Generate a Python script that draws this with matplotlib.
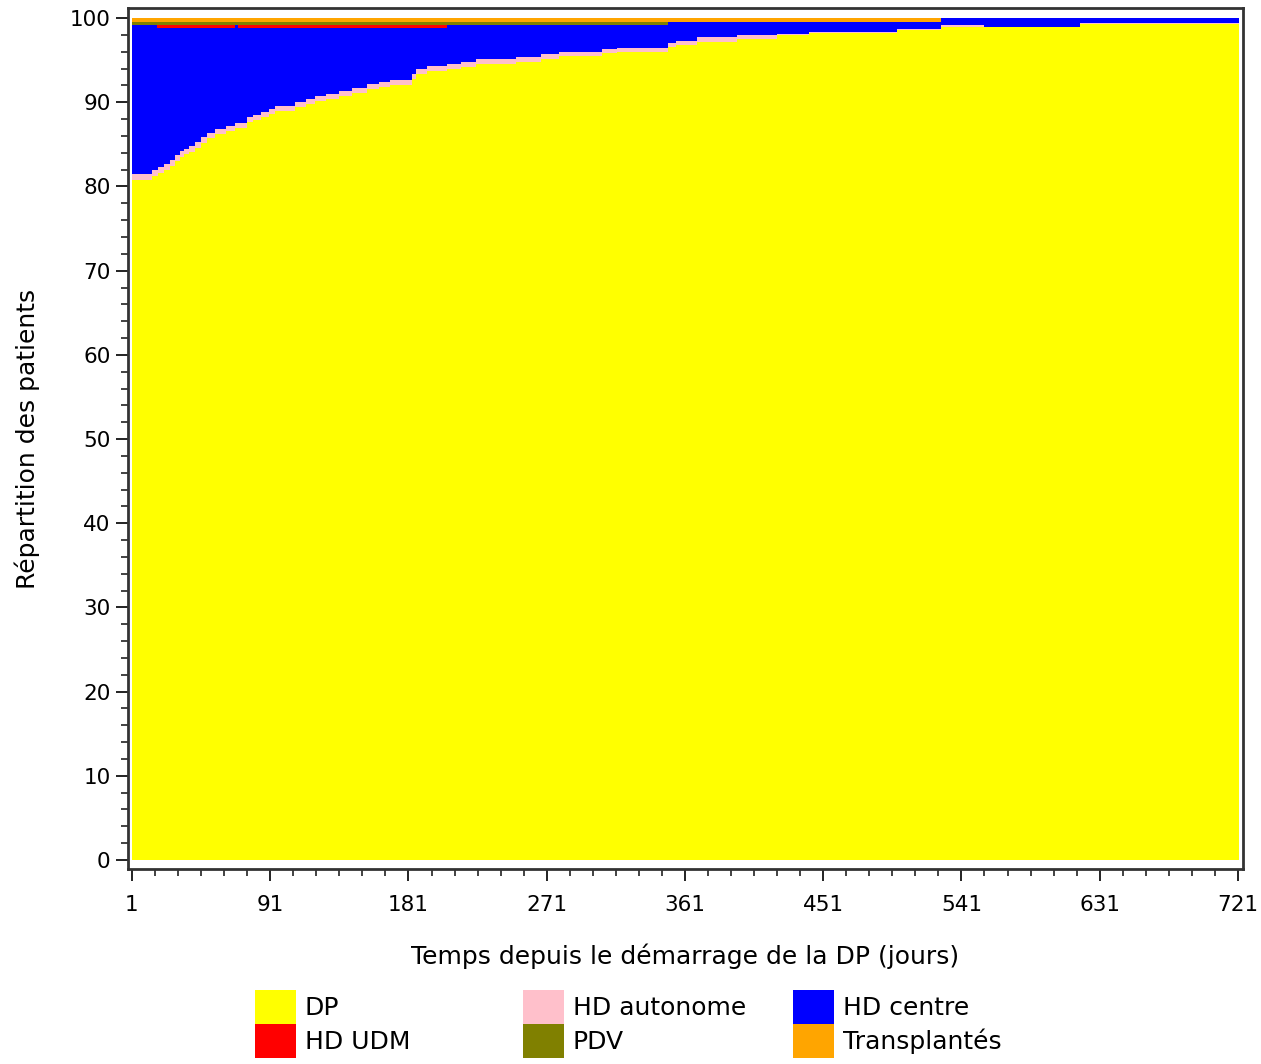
import numpy as np
import matplotlib
matplotlib.use("Agg")
import matplotlib.pyplot as plt
from matplotlib.patches import Patch
from matplotlib.ticker import MultipleLocator, FixedLocator

# ---- data (step values, each value holds from its day until the next day) ----
days = [1, 14, 17, 18, 22, 26, 29, 32, 35, 38, 42, 46, 50, 55, 62, 68, 70, 76, 80, 85,
        90, 94, 107, 114, 120, 127, 136, 144, 154, 162, 169, 183, 186, 193, 206, 215,
        225, 251, 267, 279, 307, 317, 350, 355, 369, 395, 421, 442, 499, 528, 556, 618, 722]
dp = [80.8, 81.2, 81.2, 81.6, 82.0, 82.4, 83.0, 83.5, 83.8, 84.1, 84.6, 85.2, 85.7, 86.2,
      86.6, 86.9, 86.9, 87.6, 87.9, 88.2, 88.6, 89.0, 89.4, 89.8, 90.1, 90.4, 90.7, 91.1,
      91.6, 91.8, 92.0, 92.8, 93.4, 93.7, 93.9, 94.2, 94.5, 94.8, 95.2, 95.5, 95.8, 96.0,
      96.6, 96.8, 97.2, 97.5, 98.0, 98.2, 98.6, 98.9, 98.9, 99.3, 99.3]
hd_autonome = [0.7, 0.7, 0.7, 0.7, 0.7, 0.7, 0.7, 0.7, 0.7, 0.7, 0.7, 0.7, 0.6, 0.6, 0.6,
               0.6, 0.6, 0.6, 0.6, 0.6, 0.6, 0.6, 0.6, 0.6, 0.6, 0.6, 0.6, 0.6, 0.6, 0.6,
               0.6, 0.6, 0.6, 0.6, 0.6, 0.6, 0.6, 0.6, 0.5, 0.5, 0.5, 0.5, 0.5, 0.5, 0.5,
               0.5, 0.15, 0.15, 0.15, 0.3, 0.1, 0.1, 0.1]
hd_centre = [17.7, 17.3, 16.9, 16.5, 16.1, 15.7, 15.1, 14.6, 14.3, 14.0, 13.5, 12.9, 12.5,
             12.0, 11.6, 11.7, 11.3, 10.6, 10.3, 10.0, 9.6, 9.2, 8.8, 8.4, 8.1, 7.8, 7.5,
             7.1, 6.6, 6.4, 6.2, 5.4, 4.8, 4.5, 4.7, 4.4, 4.1, 3.8, 3.5, 3.2, 2.9, 2.7,
             2.4, 2.2, 1.8, 1.5, 1.35, 1.15, 0.75, 0.8, 1.0, 0.6, 0.6]
hd_udm = [0.0, 0.0, 0.4, 0.4, 0.4, 0.4, 0.4, 0.4, 0.4, 0.4, 0.4, 0.4, 0.4, 0.4, 0.4, 0.0,
          0.4, 0.4, 0.4, 0.4, 0.4, 0.4, 0.4, 0.4, 0.4, 0.4, 0.4, 0.4, 0.4, 0.4, 0.4, 0.4,
          0.4, 0.4, 0.0, 0.0, 0.0, 0.0, 0.0, 0.0, 0.0, 0.0, 0.0, 0.0, 0.0, 0.0, 0.0, 0.0,
          0.0, 0.0, 0.0, 0.0, 0.0]
pdv = [0.3] * 42 + [0.0] * 11
transplantes = [0.5] * 49 + [0.0] * 4

labels = ["DP", "HD autonome", "HD centre", "HD UDM", "PDV", "Transplantés"]
colors = ["#FFFF00", "#FFC0CB", "#0000FF", "#FF0000", "#808000", "#FFA500"]
xticks = [1, 91, 181, 271, 361, 451, 541, 631, 721]
yticks = list(range(0, 101, 10))

# ---- figure ----
plt.rcParams['font.family'] = ['DejaVu Sans']
fig = plt.figure(figsize=(12.61, 10.64), dpi=100)
ax = fig.add_axes([128 / 1261, 1 - 869 / 1064, (1243 - 128) / 1261, (869 - 8) / 1064])

ax.stackplot(days, dp, hd_autonome, hd_centre, hd_udm, pdv, transplantes,
             colors=colors, step='post', linewidth=0, antialiased=False)

ax.set_xlim(-1.6, 724.3)
ax.set_ylim(-1.07, 101.2)
ax.xaxis.set_major_locator(FixedLocator(xticks))
ax.xaxis.set_minor_locator(FixedLocator(list(range(1, 722, 15))))
ax.yaxis.set_major_locator(FixedLocator(yticks))
ax.yaxis.set_minor_locator(MultipleLocator(2))
ax.tick_params(which='major', length=8.5, width=1.4, labelsize=15.5, color='#222222')
ax.tick_params(axis='x', which='major', pad=10)
ax.tick_params(axis='y', which='major', pad=4)
ax.tick_params(which='minor', length=5, width=1.2, color='#222222')
for s in ax.spines.values():
    s.set_linewidth(2)
    s.set_color('#333333')

ax.set_xlabel("Temps depuis le démarrage de la DP (jours)", fontsize=18, labelpad=21)
ax.set_ylabel("Répartition des patients", fontsize=18)
ax.yaxis.set_label_coords(-88 / 1115, 0.5)

handles = {l: Patch(facecolor=c, edgecolor='none') for l, c in zip(labels, colors)}
cols = [["DP", "HD UDM"], ["HD autonome", "PDV"], ["HD centre", "Transplantés"]]
xs = [255, 523, 793]
for col, x0 in zip(cols, xs):
    fig.legend([handles[l] for l in col], col, loc='upper left',
               bbox_to_anchor=(x0 / 1261, 1 - 990 / 1064), frameon=False,
               fontsize=18, borderpad=0, borderaxespad=0, labelspacing=0,
               handlelength=41 / 25, handleheight=1.715, handletextpad=0.35)

fig.savefig("out.png", dpi=100)
